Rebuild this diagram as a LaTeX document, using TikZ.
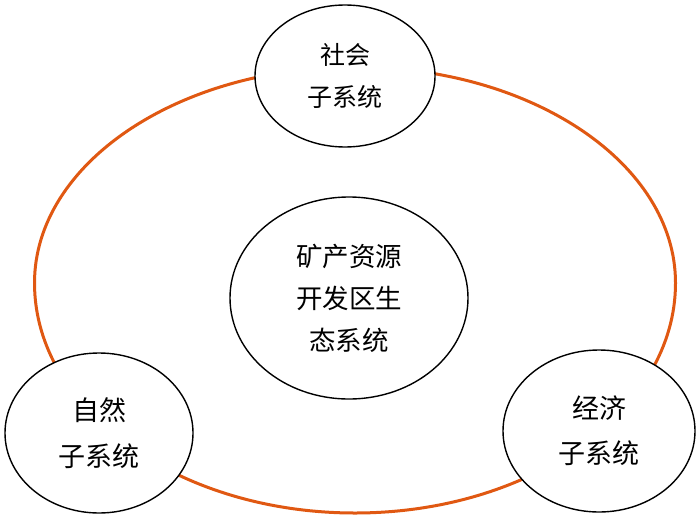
\documentclass[tikz,border=0pt]{standalone}
\usepackage{fontspec}
\newfontfamily\cjk{Noto Sans CJK SC}
\usetikzlibrary{shapes.geometric}
\definecolor{ringcol}{RGB}{224,88,18}
\begin{document}
\begin{tikzpicture}[x=1pt,y=-1pt,
  sub/.style={ellipse,draw=black,line width=1.4pt,fill=white,inner sep=0pt,align=center,
    font=\cjk\fontsize{26}{44}\selectfont},
  ringline/.style={draw=ringcol,line width=3pt}]
\useasboundingbox (0,0) rectangle (700,527);
\coordinate (L) at (34.5,283);
\draw[ringline] (L) arc[start angle=180,end angle=0,x radius=320.5pt,y radius=216pt]
  arc[start angle=0,end angle=-180,x radius=320.5pt,y radius=230pt] -- cycle;
\node[sub,minimum width=180pt,minimum height=142pt,font=\cjk\fontsize{25}{42}\selectfont] (soc) at (345,76) {社会\\子系统};
\node[sub,minimum width=238pt,minimum height=202pt,font=\cjk\fontsize{26.5}{42}\selectfont] (core) at (349,298) {矿产资源\\开发区生\\态系统};
\node[sub,minimum width=188pt,minimum height=160pt,font=\cjk\fontsize{27}{46}\selectfont] (nat) at (99,433) {自然\\子系统};
\node[sub,minimum width=192pt,minimum height=162pt,font=\cjk\fontsize{27}{45}\selectfont] (eco) at (599,431) {经济\\子系统};
\end{tikzpicture}
\end{document}
